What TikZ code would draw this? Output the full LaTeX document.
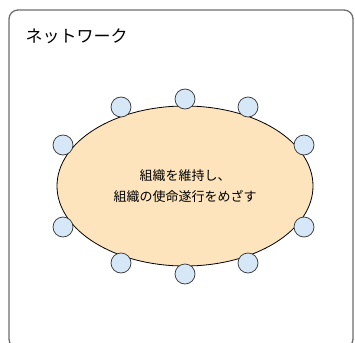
\documentclass[tikz,border=0pt]{standalone}
\usepackage{fontspec}
\newfontfamily\jp{Noto Sans CJK JP}
\usetikzlibrary{shapes.geometric}
\definecolor{core}{RGB}{253,228,188}
\definecolor{member}{RGB}{214,232,247}
\definecolor{frame}{RGB}{110,110,110}
\tikzset{
  memb/.style={circle,draw=black!80,line width=0.7pt,fill=member,minimum size=20pt,inner sep=0pt},
  corebox/.style={ellipse,draw=black,line width=0.8pt,fill=core,minimum width=256pt,minimum height=160pt,inner sep=0pt,align=center,font=\jp\fontsize{13pt}{21pt}\selectfont},
}
\begin{document}
\begin{tikzpicture}[x=1pt,y=-1pt]
\useasboundingbox (0,0) rectangle (355,342);
\clip (0,0) rectangle (355,342);
\fill[white] (0,0) rectangle (355,342);
\draw[frame,line width=1.3pt,rounded corners=9pt] (9,10) rectangle (353,348);
\node[anchor=west,font=\jp\fontsize{17pt}{20pt}\selectfont] (title) at (22,36) {ネットワーク};
\node[corebox] (core) at (185,186) {組織を維持し、\\組織の使命遂行をめざす};
\node[memb] (m1) at (185,99) {};
\node[memb] (m2) at (121,107) {};
\node[memb] (m3) at (248,107) {};
\node[memb] (m4) at (63,145) {};
\node[memb] (m5) at (304,145) {};
\node[memb] (m6) at (63,227) {};
\node[memb] (m7) at (304,227) {};
\node[memb] (m8) at (121,263) {};
\node[memb] (m9) at (185,274) {};
\node[memb] (m10) at (248,263) {};
\end{tikzpicture}
\end{document}
